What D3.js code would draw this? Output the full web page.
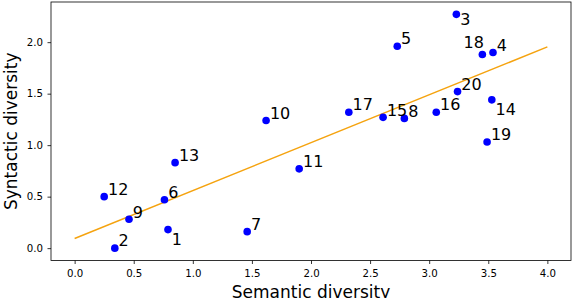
<!DOCTYPE html>
<html>
<head>
<meta charset="utf-8">
<script src="https://cdn.jsdelivr.net/npm/d3@7"></script>
<style>
  body { margin: 0; background: #fff; }
  svg { display: block; font-family: "DejaVu Sans", sans-serif; }
</style>
</head>
<body>
<div id="chart-area"></div>
<script>
// point ids shown as annotations
var ids = [1, 2, 3, 4, 5, 6, 7, 8, 9, 10, 11, 12, 13, 14, 15, 16, 17, 18, 19, 20];
var semantic = [0.79, 0.34, 3.23, 3.54, 2.73, 0.76, 1.46, 2.79, 0.46, 1.62,
                1.90, 0.25, 0.85, 3.53, 2.61, 3.06, 2.32, 3.45, 3.49, 3.24];
var syntactic = [0.18, 0.00, 2.27, 1.90, 1.96, 0.47, 0.16, 1.26, 0.28, 1.24,
                 0.77, 0.50, 0.83, 1.44, 1.27, 1.32, 1.32, 1.88, 1.03, 1.52];
// regression line end points
var fitX = [0.0, 4.0];
var fitY = [0.094, 1.954];
var xTicks = [0.0, 0.5, 1.0, 1.5, 2.0, 2.5, 3.0, 3.5, 4.0];
var yTicks = [0.0, 0.5, 1.0, 1.5, 2.0];

// labels that don't sit up-right of their dot
var placement = {1: "below1", 3: "below3", 14: "below1", 18: "left"};

var width = 579, height = 298;
var margin = {left: 51, top: 2, right: 8, bottom: 37.5};

var svg = d3.select("#chart-area")
    .append("svg")
    .attr("width", width)
    .attr("height", height);

var x = d3.scaleLinear().domain([-0.2, 4.2]).range([margin.left, width - margin.right]);
var y = d3.scaleLinear().domain([-0.12, 2.39]).range([height - margin.bottom, margin.top]);

var points = ids.map((id, i) => ({id: id, sx: semantic[i], sy: syntactic[i]}));

// fit line
svg.append("path")
    .datum(fitX.map((v, i) => [v, fitY[i]]))
    .attr("fill", "none")
    .attr("stroke", "#f5a30f")
    .attr("stroke-width", 1.5)
    .attr("d", d3.line().x(d => x(d[0])).y(d => y(d[1])));

// dots
svg.selectAll("circle.pt").data(points).enter()
    .append("circle")
    .attr("class", "pt")
    .attr("cx", d => x(d.sx))
    .attr("cy", d => y(d.sy))
    .attr("r", 3.8)
    .attr("fill", "#0000ff");

// annotations
svg.selectAll("text.lab").data(points).enter()
    .append("text")
    .attr("class", "lab")
    .attr("font-size", 16)
    .attr("fill", "#000")
    .attr("text-anchor", d => placement[d.id] == "left" ? "end" : "start")
    .attr("x", d => x(d.sx) + (placement[d.id] == "left" ? 1.5 : 3.8))
    .attr("y", d => {
        var p = placement[d.id];
        if (p == "below1") return y(d.sy) + 15.5;
        if (p == "below3") return y(d.sy) + 11;
        if (p == "left") return y(d.sy) - 6.6;
        return y(d.sy) - 1.8;
    })
    .text(d => d.id);

// axes
var xAxis = svg.append("g")
    .attr("transform", "translate(0," + (height - margin.bottom) + ")")
    .call(d3.axisBottom(x).tickValues(xTicks).tickFormat(d3.format(".1f"))
        .tickSize(3.5).tickPadding(5.5).tickSizeOuter(0));
var yAxis = svg.append("g")
    .attr("transform", "translate(" + margin.left + ",0)")
    .call(d3.axisLeft(y).tickValues(yTicks).tickFormat(d3.format(".1f"))
        .tickSize(3.5).tickPadding(4.5).tickSizeOuter(0));

[xAxis, yAxis].forEach(g => {
    g.select(".domain").remove();
    g.selectAll("line").attr("stroke", "#000").attr("stroke-width", 0.8);
    g.selectAll("text").attr("font-size", 10.2).attr("fill", "#000")
        .attr("font-family", "DejaVu Sans, sans-serif");
});

// frame
svg.append("rect")
    .attr("x", margin.left)
    .attr("y", margin.top)
    .attr("width", width - margin.left - margin.right)
    .attr("height", height - margin.top - margin.bottom)
    .attr("fill", "none")
    .attr("stroke", "#000")
    .attr("stroke-width", 0.8);

// axis titles
svg.append("text")
    .attr("x", (margin.left + width - margin.right) / 2)
    .attr("y", 297.5)
    .attr("text-anchor", "middle")
    .attr("font-size", 17)
    .text("Semantic diversity");

svg.append("text")
    .attr("transform", "translate(16.7," + ((margin.top + height - margin.bottom) / 2) + ") rotate(-90)")
    .attr("text-anchor", "middle")
    .attr("font-size", 17)
    .text("Syntactic diversity");
</script>
</body>
</html>
